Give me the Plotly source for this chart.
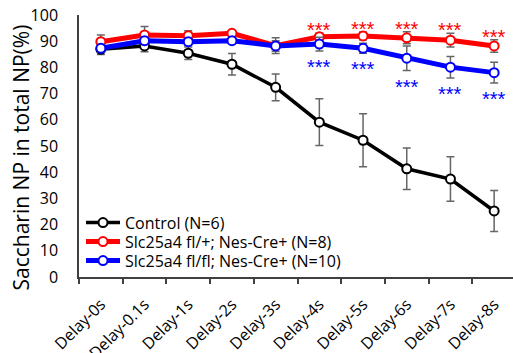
import plotly.graph_objects as go

categories = ["Delay-0s", "Delay-0.1s", "Delay-1s", "Delay-2s", "Delay-3s",
              "Delay-4s", "Delay-5s", "Delay-6s", "Delay-7s", "Delay-8s"]

control_mean = [86.9, 88.2, 85.4, 81.2, 72.4, 59.1, 52.2, 41.3, 37.4, 25.2]
control_sem = [2.0, 2.2, 2.4, 4.1, 5.1, 8.9, 10.1, 7.9, 8.5, 7.8]

het_mean = [89.8, 92.4, 92.1, 93.0, 88.3, 91.7, 92.0, 91.3, 90.4, 88.2]
het_sem = [2.6, 3.2, 1.9, 1.0, 3.0, 1.3, 1.5, 2.3, 2.6, 2.4]

ko_mean = [87.3, 90.2, 89.8, 90.2, 88.2, 88.9, 87.3, 83.5, 80.1, 78.0]
ko_sem = [1.5, 1.5, 1.5, 1.2, 2.0, 2.6, 1.9, 4.7, 4.1, 4.0]

sig_categories = ["Delay-4s", "Delay-5s", "Delay-6s", "Delay-7s", "Delay-8s"]
sig_label = "***"

names = ["Control (N=6)", "Slc25a4 fl/+; Nes-Cre+ (N=8)", "Slc25a4 fl/fl; Nes-Cre+ (N=10)"]
y_title = "Saccharin NP in total NP(%)"
y_ticks = [0, 10, 20, 30, 40, 50, 60, 70, 80, 90, 100]

FONT = "Open Sans"
STAR_FONT = "Liberation Sans"
W, H = 513, 353
ML, MR, MT, MB = 79, 0, 15, 76
plot_w = W - ML - MR
plot_h = H - MT - MB
cat_w = 43.7

def py(px_y):
    return (H - MB - px_y) / plot_h

fig = go.Figure()

def add_series(mean, sem, name, color, lw, legend_id):
    fig.add_trace(go.Scatter(
        x=categories, y=mean, name=name, mode="lines+markers",
        line=dict(color=color, width=lw),
        marker=dict(symbol="circle", size=9, color="white",
                    line=dict(color=color, width=2)),
        error_y=dict(type="data", array=sem, visible=True,
                     color="#666666", thickness=1.5, width=4),
        legend=legend_id,
    ))

add_series(control_mean, control_sem, names[0], "black", 3.5, "legend")
add_series(het_mean, het_sem, names[1], "#ff0000", 5, "legend2")
add_series(ko_mean, ko_sem, names[2], "#0000ff", 5, "legend3")

for c in sig_categories:
    i = categories.index(c)
    fig.add_annotation(x=c, y=het_mean[i] + het_sem[i], text=sig_label,
                       showarrow=False, yanchor="middle", yshift=3,
                       font=dict(family=STAR_FONT, size=20, color="#ff0000"))
    fig.add_annotation(x=c, y=ko_mean[i] - ko_sem[i], text=sig_label,
                       showarrow=False, yanchor="middle", yshift=-16,
                       font=dict(family=STAR_FONT, size=20, color="#0000ff"))

fig.add_annotation(xref="paper", yref="paper",
                   x=-(ML - 20) / plot_w, y=py(157.5),
                   text=y_title, textangle=-90, showarrow=False,
                   xanchor="center", yanchor="middle",
                   font=dict(family=FONT, size=21, color="black"))

def legend_at(px_y):
    return dict(x=2 / plot_w, y=py(px_y), xanchor="left", yanchor="middle",
                bgcolor="rgba(0,0,0,0)", itemwidth=34,
                font=dict(family=FONT, size=16, color="black"))

fig.update_layout(
    template="none",
    width=W, height=H,
    margin=dict(l=ML, r=MR, t=MT, b=MB, pad=0, autoexpand=False),
    paper_bgcolor="white", plot_bgcolor="white",
    font=dict(family=FONT, size=16, color="black"),
    showlegend=True,
    legend=legend_at(222.7),
    legend2=legend_at(241.7),
    legend3=legend_at(260.7),
)

fig.update_xaxes(
    type="category", autorange=False, range=[-0.5, -0.5 + plot_w / cat_w],
    automargin=False,
    showline=True, linecolor="#404040", linewidth=1.5,
    ticks="outside", tickson="boundaries", ticklen=5, tickcolor="#404040", tickwidth=1.5,
    tickangle=-45, showgrid=False, zeroline=False, ticklabelstandoff=10,
    tickfont=dict(family=FONT, size=16, color="black"),
)
fig.update_yaxes(
    range=[0, 100], autorange=False, tickvals=y_ticks, automargin=False,
    showline=True, linecolor="#404040", linewidth=1.5,
    ticks="", showgrid=False, zeroline=False,
    ticklabelstandoff=16,
    tickfont=dict(family=FONT, size=16, color="black"),
)

fig.write_html("out.html", config={"displayModeBar": False},
               post_script="document.body.style.margin='0';document.body.style.padding='0';")
